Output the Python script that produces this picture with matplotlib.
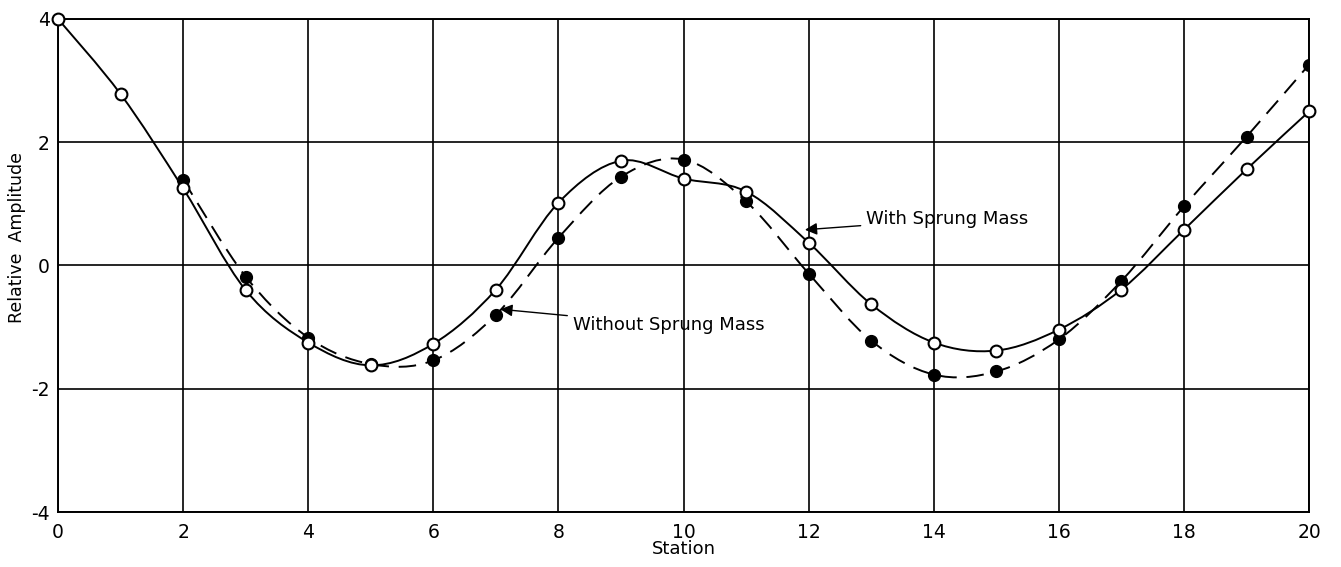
import numpy as np
import matplotlib
matplotlib.use("Agg")
import matplotlib.pyplot as plt
from matplotlib.path import Path
from matplotlib.patches import PathPatch

# Relative amplitude along the beam, per station
stations_with = list(range(0, 21))
amp_with = [4.0, 2.78, 1.25, -0.40, -1.25, -1.62, -1.27, -0.39, 1.02, 1.70,
            1.41, 1.20, 0.37, -0.63, -1.25, -1.38, -1.04, -0.39, 0.58, 1.56, 2.50]

stations_without = list(range(2, 21))
amp_without = [1.39, -0.18, -1.17, -1.60, -1.54, -0.80, 0.45, 1.44, 1.72, 1.04,
               -0.13, -1.22, -1.77, -1.72, -1.20, -0.25, 0.96, 2.09, 3.26]

x_ticks = [0, 2, 4, 6, 8, 10, 12, 14, 16, 18, 20]
y_ticks = [-4, -2, 0, 2, 4]

plt.rcParams["axes.unicode_minus"] = False


def smooth_path(xs, ys):
    """Catmull-Rom curve through the points, as cubic Bezier segments."""
    pts = np.column_stack([xs, ys]).astype(float)
    ext = np.vstack([pts[0], pts, pts[-1]])
    verts = [pts[0]]
    codes = [Path.MOVETO]
    for i in range(len(pts) - 1):
        p0, p1, p2, p3 = ext[i], ext[i + 1], ext[i + 2], ext[i + 3]
        verts += [p1 + (p2 - p0) / 6.0, p2 - (p3 - p1) / 6.0, p2]
        codes += [Path.CURVE4] * 3
    return Path(verts, codes)


fig = plt.figure(figsize=(13.41, 5.67), dpi=100)
ax = fig.add_axes([0.0433, 0.097, 0.9329, 0.8695])

ax.set_xlim(0, 20)
ax.set_ylim(-4, 4)
ax.set_xticks(x_ticks)
ax.set_yticks(y_ticks)
ax.grid(True, color="black", linewidth=1.2)
ax.set_axisbelow(True)
for s in ax.spines.values():
    s.set_linewidth(1.4)
ax.tick_params(length=0, labelsize=13.5)
ax.tick_params(axis="x", pad=8)
ax.tick_params(axis="y", pad=6)

ax.add_patch(PathPatch(smooth_path(stations_without, amp_without), fill=False,
                       edgecolor="black", linewidth=1.4, linestyle=(0, (9, 5)),
                       zorder=3))
ax.add_patch(PathPatch(smooth_path(stations_with, amp_with), fill=False,
                       edgecolor="black", linewidth=1.4, zorder=3))

ax.plot(stations_without, amp_without, linestyle="none", marker="o",
        markersize=8.5, markerfacecolor="black", markeredgecolor="black",
        zorder=4)
ax.plot(stations_with, amp_with, linestyle="none", marker="o",
        markersize=8.5, markerfacecolor="white", markeredgecolor="black",
        markeredgewidth=1.5, zorder=5, clip_on=False)

arrow = dict(arrowstyle="-|>", color="black", lw=1.0, mutation_scale=18,
             shrinkA=2, shrinkB=0)
ax.annotate("With Sprung Mass", xy=(11.94, 0.58), xytext=(12.92, 0.75),
            fontsize=13, va="center", ha="left", arrowprops=arrow, zorder=6)
ax.annotate("Without Sprung Mass", xy=(7.07, -0.71), xytext=(8.23, -0.97),
            fontsize=13, va="center", ha="left", arrowprops=arrow, zorder=6)

ax.set_xlabel("Station", fontsize=13)
ax.set_ylabel("Relative  Amplitude", fontsize=12.5)
ax.xaxis.set_label_coords(0.5, -0.056)
ax.yaxis.set_label_coords(-0.026, 0.556)

fig.savefig("out.png", dpi=100)
